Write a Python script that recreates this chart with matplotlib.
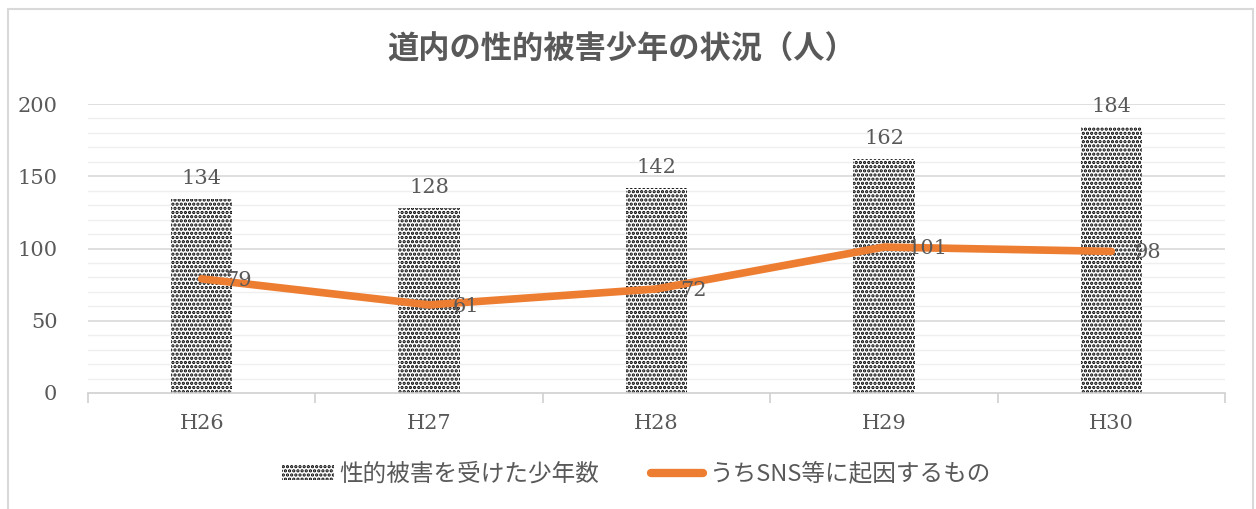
import matplotlib
matplotlib.use("Agg")
import matplotlib.pyplot as plt
from matplotlib.patches import Rectangle, Patch
from matplotlib.lines import Line2D
import numpy as np

categories = ["H26", "H27", "H28", "H29", "H30"]
victims = [134, 128, 142, 162, 184]
sns_related = [79, 61, 72, 101, 98]
title = "道内の性的被害少年の状況（人）"
legend_bar = "性的被害を受けた少年数"
legend_line = "うちSNS等に起因するもの"

W, H = 1256, 509
fig = plt.figure(figsize=(W / 100, H / 100), dpi=100)
fig.patch.set_facecolor("white")

# outer border
fig.add_artist(Rectangle((7.5 / W, -0.1), (1253 - 7.5) / W, (H - 8.5) / H + 0.1,
                         transform=fig.transFigure, fill=False,
                         edgecolor="#d9d9d9", linewidth=1.5))

ax = fig.add_axes([88 / W, (H - 393) / H, (1225 - 88) / W, (393 - 104) / H])
ax.set_xlim(-0.5, len(categories) - 0.5)
ax.set_ylim(0, 200)

serif = ["DejaVu Serif"]
cjk = ["Noto Sans CJK JP", "DejaVu Sans"]
txt_color = "#595959"

x = np.arange(len(categories))
plt.rcParams["hatch.linewidth"] = 1.6
bars = ax.bar(x, victims, width=0.27, facecolor="white", edgecolor="black",
              hatch="....", linewidth=0, zorder=2)
ax.plot(x, sns_related, color="#ED7D31", linewidth=5.5, solid_capstyle="round",
        solid_joinstyle="round", zorder=3)

# gridlines
for v in range(10, 201, 10):
    if v % 50 == 0:
        ax.axhline(v, color="#d9d9d9", linewidth=1.2, zorder=1)
    else:
        ax.axhline(v, color="#efefef", linewidth=1.0, zorder=1)

for s in ["top", "right", "left"]:
    ax.spines[s].set_visible(False)
ax.spines["bottom"].set_color("#d0d0d0")
ax.spines["bottom"].set_linewidth(1.2)

ax.set_yticks(range(0, 201, 50))
ax.set_yticklabels([str(v) for v in range(0, 201, 50)], family=serif,
                   fontsize=15, color=txt_color)
ax.tick_params(axis="y", length=0, pad=22)

ax.set_xticks(x)
ax.set_xticklabels(categories, family=serif, fontsize=15, color=txt_color)
ax.tick_params(axis="x", length=0, pad=15)
ax.set_xticks(np.arange(-0.5, len(categories), 1.0), minor=True)
ax.tick_params(axis="x", which="minor", length=7, color="#d0d0d0", width=1.2)

for xi, v in zip(x, victims):
    ax.annotate(str(v), (xi, v), xytext=(0, 8), textcoords="offset points",
                ha="center", va="bottom", family=serif, fontsize=15,
                color=txt_color, zorder=4)
for xi, v in zip(x, sns_related):
    ax.annotate(str(v), (xi, v), xytext=(17, -1), textcoords="offset points",
                ha="left", va="center", family=serif, fontsize=15,
                color=txt_color, zorder=4)

fig.text(622 / W, 1 - 50 / H, title, ha="center", va="center",
         family=cjk, fontsize=22.5, fontweight="bold", color=txt_color)

handles = [Patch(facecolor="white", edgecolor="black", hatch="....", linewidth=0),
           Line2D([0], [0], color="#ED7D31", linewidth=6, solid_capstyle="round")]
leg = fig.legend(handles, [legend_bar, legend_line], loc="center",
                 bbox_to_anchor=(636 / W, 1 - 474 / H), ncol=2, frameon=False,
                 prop={"family": cjk, "size": 17}, handlelength=2.2,
                 handletextpad=0.25, columnspacing=2.2, handleheight=0.6)
for t in leg.get_texts():
    t.set_color(txt_color)

fig.savefig("out.png", dpi=100, facecolor="white")
